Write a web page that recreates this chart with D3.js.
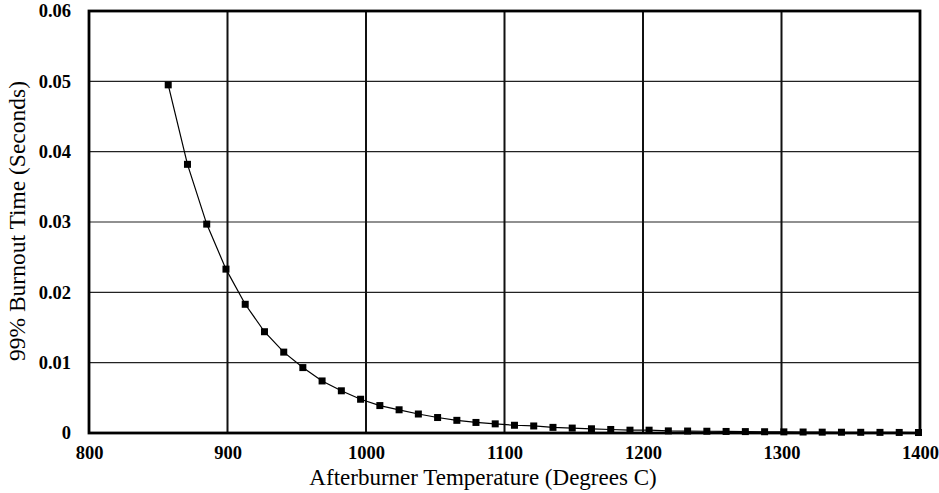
<!DOCTYPE html>
<html><head><meta charset="utf-8">
<script src="https://cdn.jsdelivr.net/npm/d3@7"></script>
<style>
body{margin:0;background:#fff;}
svg{display:block;}
</style></head>
<body>
<svg id="chart" width="939" height="493"></svg>
<script>
const temperatures = [857.2,871.1,885.0,898.9,912.8,926.7,940.6,954.4,968.3,982.2,
  996.1,1010.0,1023.9,1037.8,1051.7,1065.6,1079.4,1093.3,1107.2,1121.1,
  1135.0,1148.9,1162.8,1176.7,1190.6,1204.4,1218.3,1232.2,1246.1,1260.0,
  1273.9,1287.8,1301.7,1315.6,1329.4,1343.3,1357.2,1371.1,1385.0,1398.9];
const burnoutTimes = [0.0495,0.0382,0.0297,0.0233,0.0183,0.0144,0.0115,0.0093,0.0074,0.0060,
  0.0048,0.0039,0.0033,0.0027,0.0022,0.0018,0.0015,0.0013,0.0011,0.0010,
  0.0008,0.0007,0.0006,0.0005,0.0004,0.0004,0.0003,0.00028,0.00025,0.00022,
  0.0002,0.00018,0.00016,0.00014,0.00012,0.00011,0.0001,0.00009,0.00008,0.00007];
const xTicks = [800,900,1000,1100,1200,1300,1400];
const yTicks = [0,0.01,0.02,0.03,0.04,0.05,0.06];
const xTitle = "Afterburner Temperature (Degrees C)";
const yTitle = "99% Burnout Time (Seconds)";

const FONT = "'Liberation Serif', 'Times New Roman', 'DejaVu Serif', serif";
const svg = d3.select("#chart");
const L = 89, R = 920, T = 11, B = 433;
const x = d3.scaleLinear().domain([800,1400]).range([L,R]);
const y = d3.scaleLinear().domain([0,0.06]).range([B,T]);

svg.append("g").selectAll("line").data(yTicks.filter(d=>d>0 && d<0.06)).join("line")
  .attr("x1",L).attr("x2",R).attr("y1",d=>y(d)).attr("y2",d=>y(d))
  .attr("stroke","#222").attr("stroke-width",1.2);
svg.append("g").selectAll("line").data(xTicks.filter(d=>d>800 && d<1400)).join("line")
  .attr("x1",d=>x(d)).attr("x2",d=>x(d)).attr("y1",T).attr("y2",B)
  .attr("stroke","#111").attr("stroke-width",2);

const xAxis = svg.append("g").attr("transform",`translate(0,${B})`)
  .call(d3.axisBottom(x).tickValues(xTicks).tickFormat(d3.format("d")).tickSize(0).tickPadding(13));
const yAxis = svg.append("g").attr("transform",`translate(${L},0)`)
  .call(d3.axisLeft(y).tickValues(yTicks).tickFormat(d=>d===0?"0":d3.format(".2f")(d)).tickSize(0).tickPadding(18));
[xAxis,yAxis].forEach(g=>{
  g.attr("font-family",FONT).attr("font-size",18.5);
  g.select(".domain").remove();
  g.selectAll("text").attr("font-family",FONT).attr("font-size",18.5).attr("font-weight","bold").attr("fill","#000");
});

svg.append("rect").attr("x",L).attr("y",T).attr("width",R-L).attr("height",B-T)
  .attr("fill","none").attr("stroke","#000").attr("stroke-width",2.8);

const line = d3.line().x((d,i)=>x(temperatures[i])).y(d=>y(d));
svg.append("path").datum(burnoutTimes).attr("d",line)
  .attr("fill","none").attr("stroke","#000").attr("stroke-width",1.2);
svg.append("g").selectAll("rect").data(burnoutTimes).join("rect")
  .attr("x",(d,i)=>x(temperatures[i])-3.5).attr("y",d=>y(d)-3.5)
  .attr("width",7).attr("height",7).attr("fill","#000");

svg.append("text").attr("x",483).attr("y",485).attr("text-anchor","middle")
  .attr("font-family",FONT).attr("font-size",23).text(xTitle);
svg.append("text").attr("transform",`translate(25,221) rotate(-90)`).attr("text-anchor","middle")
  .attr("font-family",FONT).attr("font-size",23.5).text(yTitle);
</script>
</body></html>
